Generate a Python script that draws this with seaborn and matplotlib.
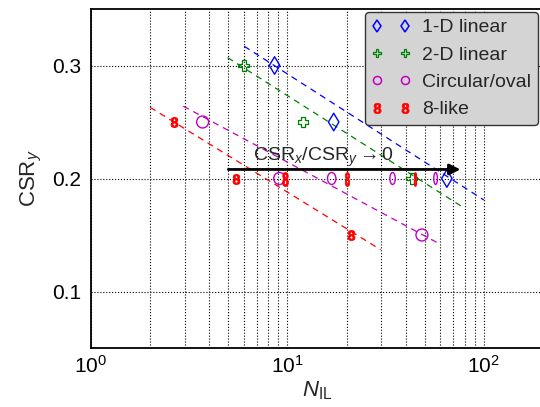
import numpy as np
import matplotlib
matplotlib.use("Agg")
import matplotlib.pyplot as plt
import seaborn as sns
from matplotlib.lines import Line2D
from matplotlib.markers import MarkerStyle
from matplotlib.path import Path
from matplotlib.textpath import TextPath
from matplotlib.font_manager import FontProperties
from matplotlib.transforms import Affine2D

# data
oned_x = [8.6, 17.2, 64.8]
oned_y = [0.30, 0.25, 0.20]
twod_x = [6.0, 12.0, 43.0]
twod_y = [0.30, 0.25, 0.20]
circ_x = [3.7, 48.4]
circ_y = [0.25, 0.15]
eight_x = [2.65, 21.0]
eight_y = [0.25, 0.15]

# points on the CSRy = 0.2 row, markers squeezed sideways
row_y = 0.20
circ_row_x = [9.1, 16.8, 34.3, 56.8]
circ_row_aspect = [0.95, 0.7, 0.45, 0.3]
eight_row_x = [5.5, 9.7, 20.0, 44.5]
eight_row_aspect = [1.0, 0.6, 0.45, 0.25]
eight_row_big = [False, True, True, True]

# dashed trend lines (end points)
fit_oned_x, fit_oned_y = [6.03, 100], [0.317, 0.181]
fit_twod_x, fit_twod_y = [4.96, 80], [0.307, 0.1735]
fit_circ_x, fit_circ_y = [2.95, 59.7], [0.264, 0.142]
fit_eight_x, fit_eight_y = [2.0, 29.8], [0.263, 0.137]

arrow_x = [5.0, 76.0]
arrow_y = 0.208

c_blue, c_green, c_mag, c_red = "#0000ff", "#008000", "#c000c0", "#ff0000"

sns.set_style("white")
plt.rcParams["font.family"] = ["Liberation Sans", "DejaVu Sans"]
plt.rcParams["mathtext.fontset"] = "custom"
plt.rcParams["mathtext.rm"] = "Liberation Sans"
plt.rcParams["mathtext.it"] = "Liberation Sans:italic"
plt.rcParams["mathtext.bf"] = "Liberation Sans:bold"


def ellipse_marker(aspect):
    p = Affine2D().scale(aspect, 1.0).transform_path(Path.unit_circle())
    return MarkerStyle(p)


def eight_marker(aspect=1.0):
    tp = TextPath((0, 0), "8", size=10,
                  prop=FontProperties(family="Liberation Sans", weight="bold"))
    v = tp.vertices.copy()
    ext = tp.get_extents()
    v[:, 0] -= (ext.x0 + ext.x1) / 2
    v[:, 1] -= (ext.y0 + ext.y1) / 2
    v[:, 0] *= aspect
    return MarkerStyle(Path(v, tp.codes))


fig = plt.figure(figsize=(5.4, 4.07), dpi=100)
ax = fig.add_axes([91 / 540, 59 / 407, 452 / 540, 339 / 407])

# trend lines
for fx, fy, col in [(fit_oned_x, fit_oned_y, c_blue), (fit_twod_x, fit_twod_y, c_green),
                    (fit_circ_x, fit_circ_y, c_mag), (fit_eight_x, fit_eight_y, c_red)]:
    sns.lineplot(x=fx, y=fy, color=col, lw=0.9, ax=ax,
                 estimator=None, sort=False, legend=False)
    ax.lines[-1].set_dashes((5, 4))

# main series (open markers)
for xs, ys, mk, s, lw, col in [(oned_x, oned_y, "d", 80, 1.0, c_blue),
                               (twod_x, twod_y, "P", 62, 0.9, c_green),
                               (circ_x, circ_y, "o", 74, 1.0, c_mag)]:
    sns.scatterplot(x=xs, y=ys, marker=mk, s=s, color=col, edgecolor=col,
                    facecolor="none", linewidth=lw, ax=ax, zorder=5)
sns.scatterplot(x=eight_x, y=eight_y, marker=eight_marker(), s=52, color=c_red,
                edgecolor=c_red, linewidth=0.6, ax=ax, zorder=5)

# squeezed markers on the CSRy = 0.2 row
for xv, a in zip(circ_row_x, circ_row_aspect):
    sns.scatterplot(x=[xv], y=[row_y], marker=ellipse_marker(a), s=74, color=c_mag,
                    edgecolor=c_mag, facecolor="none", linewidth=1.0, ax=ax, zorder=5)
for xv, a, big in zip(eight_row_x, eight_row_aspect, eight_row_big):
    sns.scatterplot(x=[xv], y=[row_y], marker=eight_marker(a), s=100 if big else 52,
                    color=c_red, edgecolor=c_red, linewidth=0.6, ax=ax, zorder=5)

# arrow and note
ax.annotate("", xy=(arrow_x[1], arrow_y), xytext=(arrow_x[0], arrow_y),
            arrowprops=dict(arrowstyle="-|>", lw=2, color="k", mutation_scale=16,
                            shrinkA=0, shrinkB=0), zorder=6)
ax.text(15.2, 0.2155, r"CSR$_x$/CSR$_y \rightarrow$0", ha="center", va="baseline",
        fontsize=14)

ax.set_xscale("log")
ax.set_xlim(1, 200)
ax.set_ylim(0.05, 0.35)
ax.set_yticks([0.1, 0.2, 0.3])
ax.set_yticklabels(["0.1", "0.2", "0.3"])
ax.grid(True, which="major", axis="both", ls=":", color="k", lw=0.8)
ax.grid(True, which="minor", axis="x", ls=":", color="k", lw=0.8)
ax.tick_params(which="both", length=0, labelsize=15, colors="k")
ax.tick_params(axis="y", pad=7)
ax.tick_params(axis="x", pad=5)
for sp in ax.spines.values():
    sp.set_color("k")
    sp.set_linewidth(1.3)
ax.set_axisbelow(True)

ax.set_xlabel(r"$N_{\mathrm{IL}}$", fontsize=16, labelpad=2)
ax.set_ylabel(r"CSR$_y$", fontsize=16, labelpad=6)

handles = [
    Line2D([0], [0], ls="none", marker="d", ms=6.6, mfc="none", mec=c_blue, mew=1.1),
    Line2D([0], [0], ls="none", marker="P", ms=6.2, mfc="none", mec=c_green, mew=0.9),
    Line2D([0], [0], ls="none", marker="o", ms=5.8, mfc="none", mec=c_mag, mew=1.1),
    Line2D([0], [0], ls="none", marker=eight_marker(), ms=7.5, mfc=c_red, mec=c_red, mew=0.5),
]
labels = ["1-D linear", "2-D linear", "Circular/oval", "8-like"]
leg = ax.legend(handles, labels, loc="upper right", bbox_to_anchor=(538 / 540, 1 - 12 / 407),
                bbox_transform=fig.transFigure, borderaxespad=0, numpoints=2,
                fontsize=14, handlelength=2.0, handletextpad=0.6, labelspacing=0.5,
                frameon=True, fancybox=True, framealpha=1, borderpad=0.35)
leg.get_frame().set_facecolor("#d4d4d4")
leg.get_frame().set_edgecolor("#333333")
leg.set_zorder(10)

fig.savefig("out.png", dpi=100)
